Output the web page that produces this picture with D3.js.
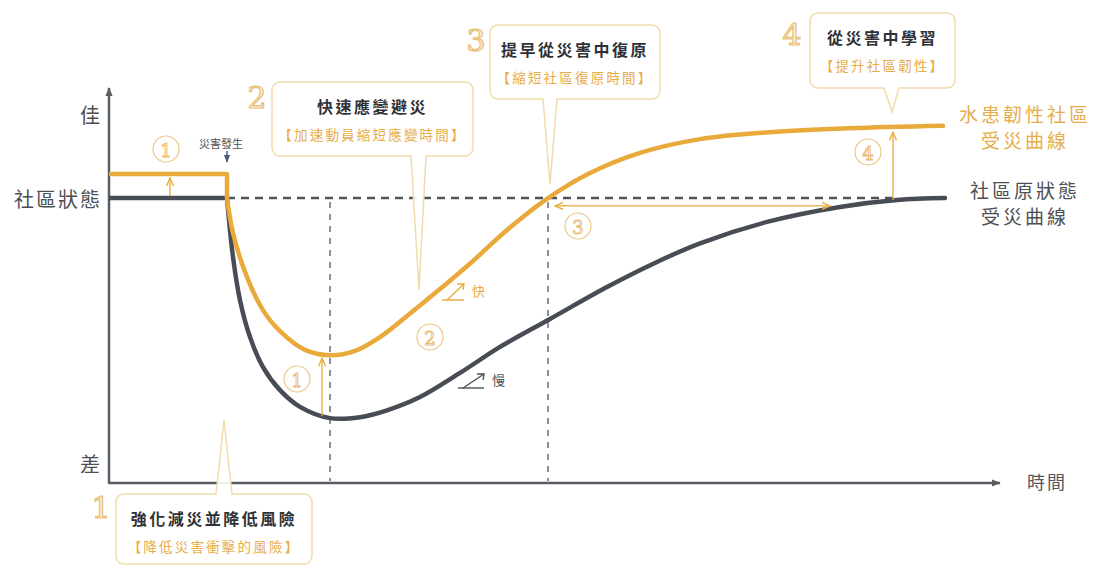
<!DOCTYPE html>
<html>
<head>
<meta charset="utf-8">
<script src="https://cdn.jsdelivr.net/npm/d3@7"></script>
<style>
  body { margin: 0; background: #fff; }
  svg { display: block; font-family: "Noto Sans CJK TC", "Noto Sans", sans-serif; }
</style>
</head>
<body>
<svg id="chart" width="1096" height="566"></svg>
<script>
// ---- data (time units / condition units) ----
const disasterT = 11.8;
const troughT = 22.1;
const recoverT = 43.9;
const learnedT = 78.8;

// level before the disaster
const originalPre = 0;
const resilientPre = 4.9;

// curves from the disaster onward
const originalT = [11.8, 12.4, 13.1, 14.1, 15.4, 17.1, 19.1, 22.1, 25.1, 27.8, 31.1, 35.1, 39.1, 44.1, 49.8, 54.8, 59.1, 66.1, 73.1, 78.8, 83.6];
const originalV = [0, -12.0, -20.8, -28.3, -34.4, -39.1, -42.5, -44.8, -44.6, -43.2, -40.5, -35.6, -30.3, -24.6, -18.1, -13.0, -9.2, -4.7, -1.8, -0.4, 0];
const resilientT = [11.8, 12.4, 13.8, 15.4, 17.1, 19.6, 22.1, 24.6, 27.1, 29.8, 32.4, 36.4, 39.8, 43.9, 48.1, 53.1, 59.1, 66.1, 74.1, 83.4];
const resilientV = [0, -7.1, -16.1, -22.8, -27.1, -30.9, -32.0, -31.1, -28.3, -24.0, -19.7, -12.8, -6.5, 0, 5.1, 9.2, 12.0, 13.4, 14.2, 14.7];

const yLabels = ["佳", "社區狀態", "差"];
const yLabelValues = [17, 0, -54];
const xLabel = "時間";
const disasterLabel = "災害發生";

const seriesNames = [["水患韌性社區", "受災曲線"], ["社區原狀態", "受災曲線"]];

const calloutNums = ["1", "2", "3", "4"];
const calloutTitles = ["強化減災並降低風險", "快速應變避災", "提早從災害中復原", "從災害中學習"];
const calloutSubs = ["【降低災害衝擊的風險】", "【加速動員縮短應變時間】", "【縮短社區復原時間】", "【提升社區韌性】"];

// ---- layout ----
const GOLD = "#e9aa3c", GOLD_T = "#e7ad4a", BOX = "#f1dbaa", DARK = "#474c55", AXIS = "#595d64";
const svg = d3.select("#chart");
const x = d3.scaleLinear().domain([0, 89]).range([109, 999]);
const y = d3.scaleLinear().domain([-58, 22]).range([483, 90]);

const defs = svg.append("defs");
defs.append("marker").attr("id", "axArrow").attr("viewBox", "0 0 10 10")
  .attr("refX", 9).attr("refY", 5).attr("markerWidth", 9).attr("markerHeight", 9)
  .attr("markerUnits", "userSpaceOnUse").attr("orient", "auto-start-reverse")
  .append("path").attr("d", "M0,1 L10,5 L0,9 Z").attr("fill", AXIS);
defs.append("marker").attr("id", "goldArrow").attr("viewBox", "0 0 10 10")
  .attr("refX", 9).attr("refY", 5).attr("markerWidth", 10).attr("markerHeight", 10)
  .attr("markerUnits", "userSpaceOnUse").attr("orient", "auto-start-reverse")
  .append("path").attr("d", "M1,1.5 L9,5 L1,8.5").attr("fill", "none").attr("stroke", GOLD).attr("stroke-width", 1.3);
defs.append("marker").attr("id", "darkArrow").attr("viewBox", "0 0 10 10")
  .attr("refX", 9).attr("refY", 5).attr("markerWidth", 8).attr("markerHeight", 8)
  .attr("markerUnits", "userSpaceOnUse").attr("orient", "auto")
  .append("path").attr("d", "M0,1 L10,5 L0,9 Z").attr("fill", "#4a5a78");

// axes
svg.append("line").attr("x1", x(0)).attr("y1", y(-58)).attr("x2", x(0)).attr("y2", 88)
  .attr("stroke", AXIS).attr("stroke-width", 2.5).attr("marker-end", "url(#axArrow)");
svg.append("line").attr("x1", x(0) - 1).attr("y1", y(-58)).attr("x2", 1000).attr("y2", y(-58))
  .attr("stroke", AXIS).attr("stroke-width", 2.5).attr("marker-end", "url(#axArrow)");

yLabels.forEach((t, i) => {
  svg.append("text").attr("x", 102).attr("y", y(yLabelValues[i]))
    .attr("text-anchor", "end").attr("dominant-baseline", "central")
    .attr("font-size", 20).attr("letter-spacing", 2).attr("fill", "#4d4f53").text(t);
});
svg.append("text").attr("x", 1047).attr("y", y(-58) - 2).attr("text-anchor", "middle")
  .attr("dominant-baseline", "central").attr("font-size", 18).attr("letter-spacing", 2)
  .attr("fill", "#55585d").text(xLabel);

// reference dashed lines
svg.append("line").attr("x1", x(disasterT)).attr("y1", y(0)).attr("x2", x(learnedT)).attr("y2", y(0))
  .attr("stroke", "#4e535a").attr("stroke-width", 2.5).attr("stroke-dasharray", "8,6");
[troughT, recoverT].forEach(t => {
  svg.append("line").attr("x1", x(t)).attr("y1", y(0) + 4).attr("x2", x(t)).attr("y2", y(-58) - 2)
    .attr("stroke", "#8e9197").attr("stroke-width", 2).attr("stroke-dasharray", "6,6");
});

// curves: straight pre-disaster level, then smooth response curve
const straight = d3.line().x(d => x(d[0])).y(d => y(d[1]));
const smooth = d3.line().x(d => x(d[0])).y(d => y(d[1])).curve(d3.curveCatmullRom.alpha(0.5));
function drawCurve(pre, ts, vs, color) {
  svg.append("path").datum([[0, pre], [disasterT, pre], [ts[0], vs[0]]]).attr("d", straight)
    .attr("fill", "none").attr("stroke", color).attr("stroke-width", 4.5).attr("stroke-linejoin", "round");
  svg.append("path").datum(d3.zip(ts, vs)).attr("d", smooth)
    .attr("fill", "none").attr("stroke", color).attr("stroke-width", 4.5).attr("stroke-linecap", "round");
}
drawCurve(originalPre, originalT, originalV, DARK);
drawCurve(resilientPre, resilientT, resilientV, GOLD);

// disaster marker
svg.append("text").attr("x", x(disasterT) - 6).attr("y", 143).attr("text-anchor", "middle")
  .attr("dominant-baseline", "central").attr("font-size", 11).attr("fill", "#4d4f53").text(disasterLabel);
svg.append("line").attr("x1", x(disasterT)).attr("y1", 151).attr("x2", x(disasterT)).attr("y2", 162)
  .attr("stroke", "#4a5a78").attr("stroke-width", 1.5).attr("marker-end", "url(#darkArrow)");

// gold arrows
function goldArrow(x1, y1, x2, y2, both) {
  svg.append("line").attr("x1", x1).attr("y1", y1).attr("x2", x2).attr("y2", y2)
    .attr("stroke", GOLD).attr("stroke-width", 1.3)
    .attr("marker-end", "url(#goldArrow)").attr("marker-start", both ? "url(#goldArrow)" : null);
}
goldArrow(x(6.1), y(originalPre) - 2, x(6.1), y(resilientPre - 0.8));
goldArrow(x(21.3), y(-44.4), x(21.3), y(-32.6));
goldArrow(x(44.6), y(-1.6), x(72.1), y(-1.6), true);
goldArrow(x(learnedT - 0.4), y(-0.4), x(learnedT - 0.4), y(13.4));

// circled numbers
const circled = [["1", 166, 149], ["1", 297, 379], ["2", 430, 337], ["3", 578, 226], ["4", 868, 152]];
circled.forEach(c => {
  svg.append("circle").attr("cx", c[1]).attr("cy", c[2]).attr("r", 13)
    .attr("fill", "#fff").attr("stroke", "#edc78a").attr("stroke-width", 1.2);
  svg.append("text").attr("x", c[1]).attr("y", c[2] + 1).attr("text-anchor", "middle")
    .attr("dominant-baseline", "central").attr("font-family", "DejaVu Serif").attr("font-size", 18)
    .attr("fill", "#fff").attr("stroke", "#e9bb6f").attr("stroke-width", 0.9).text(c[0]);
});

// speed icons
function speedIcon(x0, y0, w, h, color, label) {
  const g = svg.append("g").attr("stroke", color).attr("stroke-width", 1.4).attr("fill", "none");
  g.append("path").attr("d", `M${x0},${y0} L${x0 + w},${y0}`);
  g.append("path").attr("d", `M${x0 + 5},${y0} L${x0 + w},${y0 - h}`);
  g.append("path").attr("d", `M${x0 + w - 7},${y0 - h} L${x0 + w},${y0 - h} L${x0 + w - 1},${y0 - h + 6}`);
  svg.append("text").attr("x", x0 + w + 8).attr("y", y0 - h / 2 - 2).attr("dominant-baseline", "central")
    .attr("font-size", 13).attr("fill", color).text(label);
}
speedIcon(442, 300, 22, 16, GOLD, "快");
speedIcon(458, 388, 26, 14, "#4d4f53", "慢");

// end labels (two lines each)
seriesNames.forEach((pair, i) => {
  const baseY = i === 0 ? 113 : 189;
  pair.forEach((s, j) => {
    svg.append("text").attr("x", 1025).attr("y", baseY + j * 26).attr("text-anchor", "middle")
      .attr("dominant-baseline", "central").attr("font-size", 19).attr("letter-spacing", 3)
      .attr("fill", i === 0 ? GOLD_T : "#4d4f53").text(s);
  });
});

// callout boxes
function calloutPath(bx, by, w, h, r, side, b1, b2, tx, ty) {
  let p = `M${bx + r},${by}`;
  if (side === "top") p += ` L${b1},${by} L${tx},${ty} L${b2},${by}`;
  p += ` L${bx + w - r},${by} A${r},${r} 0 0 1 ${bx + w},${by + r} L${bx + w},${by + h - r} A${r},${r} 0 0 1 ${bx + w - r},${by + h}`;
  if (side === "bottom") p += ` L${b2},${by + h} L${tx},${ty} L${b1},${by + h}`;
  p += ` L${bx + r},${by + h} A${r},${r} 0 0 1 ${bx},${by + h - r} L${bx},${by + r} A${r},${r} 0 0 1 ${bx + r},${by} Z`;
  return p;
}
const boxes = [
  { bx: 116, by: 494, w: 196, h: 70, side: "top", b1: 216, b2: 232, tx: x(disasterT) - 3, ty: 420, nx: 101, ny: 507 },
  { bx: 272, by: 82, w: 201, h: 74, side: "bottom", b1: 411, b2: 426, tx: 419, ty: 290, nx: 257, ny: 97 },
  { bx: 490, by: 25, w: 170, h: 74, side: "bottom", b1: 543, b2: 557, tx: x(recoverT) + 2, ty: y(0) - 14, nx: 476, ny: 40 },
  { bx: 810, by: 13, w: 145, h: 75, side: "bottom", b1: 884, b2: 899, tx: x(learnedT) - 5, ty: 112, nx: 792, ny: 34 }
];
boxes.forEach((b, i) => {
  svg.append("path").attr("d", calloutPath(b.bx, b.by, b.w, b.h, 8, b.side, b.b1, b.b2, b.tx, b.ty))
    .attr("fill", "#fff").attr("fill-opacity", 0.9).attr("stroke", BOX).attr("stroke-width", 1.5);
  const cx = b.bx + b.w / 2;
  svg.append("text").attr("x", cx).attr("y", b.by + 24).attr("text-anchor", "middle")
    .attr("dominant-baseline", "central").attr("font-size", 16).attr("font-weight", 700)
    .attr("letter-spacing", 2.5).attr("fill", "#2f3136").text(calloutTitles[i]);
  svg.append("text").attr("x", cx).attr("y", b.by + 52).attr("text-anchor", "middle")
    .attr("dominant-baseline", "central").attr("font-size", 13.5).attr("letter-spacing", 2.2)
    .attr("fill", GOLD_T).text(calloutSubs[i]);
  svg.append("text").attr("x", b.nx).attr("y", b.ny).attr("text-anchor", "middle")
    .attr("dominant-baseline", "central").attr("font-family", "DejaVu Serif").attr("font-size", 30)
    .attr("fill", "#fdf2dc").attr("stroke", "#e9bd72").attr("stroke-width", 1.2).text(calloutNums[i]);
});
</script>
</body>
</html>
